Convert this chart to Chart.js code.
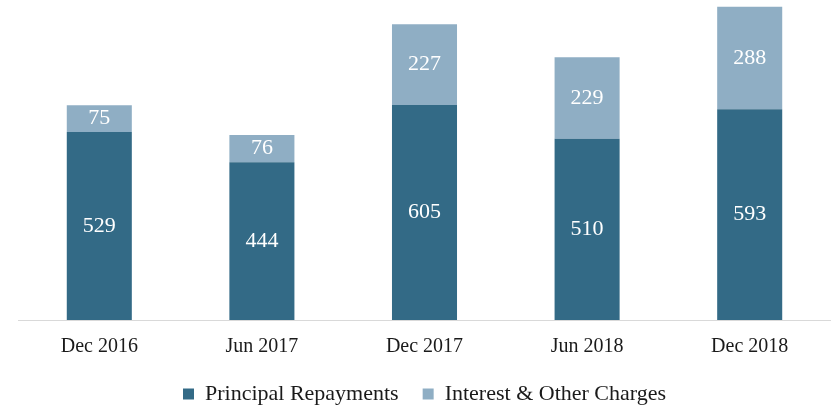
<!DOCTYPE html>
<html>
<head>
<meta charset="utf-8">
<script src="https://cdn.jsdelivr.net/npm/chart.js"></script>
<style>
  html, body { margin: 0; padding: 0; background: #fff; }
  #wrap { width: 831px; height: 410px; }
</style>
</head>
<body>
<div id="wrap"><canvas id="chart"></canvas></div>
<script>
// Chart values
const periods = ['Dec 2016', 'Jun 2017', 'Dec 2017', 'Jun 2018', 'Dec 2018'];
const principal = [529, 444, 605, 510, 593];
const interest = [75, 76, 227, 229, 288];
const seriesNames = ['Principal Repayments', 'Interest & Other Charges'];

const FONT = '"Liberation Serif", "DejaVu Serif", serif';

// Write each value in the middle of its bar segment
const barValues = {
  id: 'barValues',
  afterDatasetsDraw(chart) {
    const ctx = chart.ctx;
    ctx.save();
    ctx.font = '22px ' + FONT;
    ctx.fillStyle = '#ffffff';
    ctx.textAlign = 'center';
    ctx.textBaseline = 'middle';
    chart.data.datasets.forEach((ds, i) => {
      chart.getDatasetMeta(i).data.forEach((bar, j) => {
        const mid = (bar.y + bar.base) / 2;
        ctx.fillText(ds.data[j], bar.x, mid);
      });
    });
    ctx.restore();
  }
};

new Chart(document.getElementById('chart'), {
  type: 'bar',
  data: {
    labels: periods,
    datasets: [{
      label: seriesNames[0],
      data: principal,
      backgroundColor: '#336A86',
      barPercentage: 0.4,
      categoryPercentage: 1
    }, {
      label: seriesNames[1],
      data: interest,
      backgroundColor: '#8FAEC4',
      barPercentage: 0.4,
      categoryPercentage: 1
    }]
  },
  options: {
    responsive: true,
    maintainAspectRatio: false,
    animation: false,
    layout: { padding: { left: 18, right: 0, top: 0, bottom: -5 } },
    scales: {
      x: {
        stacked: true,
        grid: { display: false, tickLength: 15 },
        border: { color: '#d9d9d9', width: 1 },
        ticks: { color: '#1a1a1a', font: { family: FONT, size: 20 }, padding: 0 }
      },
      y: {
        stacked: true,
        display: false,
        min: 0,
        max: 900
      }
    },
    plugins: {
      legend: {
        position: 'bottom',
        labels: {
          color: '#1a1a1a',
          font: { family: FONT, size: 22 },
          boxWidth: 11,
          boxHeight: 11,
          padding: 24
        }
      },
      tooltip: { enabled: false }
    }
  },
  plugins: [barValues]
});
</script>
</body>
</html>
